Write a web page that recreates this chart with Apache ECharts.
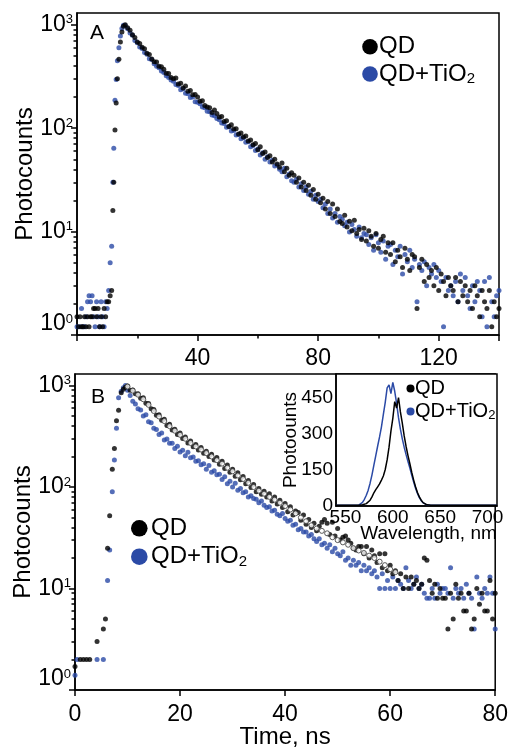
<!DOCTYPE html>
<html><head><meta charset="utf-8">
<script src="https://cdn.jsdelivr.net/npm/echarts@6/dist/echarts.min.js"></script>
<style>html,body{margin:0;padding:0;background:#fff}#c{width:511px;height:750px}</style>
</head><body><div id="c"></div>
<script>
// ---------- Panel A: decay curves (time, ns) ----------
const timeA = [
0,0.5,1,1.5,2,2.5,3,3.5,4,4.5,5,5.5,6,6.5,7,7.5,8,8.5,9,9.5,10,10.5,11,
11.5,11.9,12.2,12.6,13,13.4,13.9,14.4,14.9,15.4,
16,16.8,17.6,18.4,19.2,20,20.8,21.6,22.4,23.2,
24,24.8,25.6,26.4,27.2,28,28.8,29.6,30.4,31.2,
32,32.8,33.6,34.4,35.2,36,36.8,37.6,38.4,39.2,
40,40.8,41.6,42.4,43.2,44,44.8,45.6,46.4,47.2,
48,48.8,49.6,50.4,51.2,52,52.8,53.6,54.4,55.2,
56,56.8,57.6,58.4,59.2,60,60.8,61.6,62.4,63.2,
64,64.8,65.6,66.4,67.2,68,68.8,69.6,70.4,71.2,
72,72.8,73.6,74.4,75.2,76,76.8,77.6,78.4,79.2,
80,80.8,81.6,82.4,83.2,84,84.8,85.6,86.4,87.2,
88,88.8,89.6,90.4,91.2,92,92.8,93.6,94.4,95.2,
96,96.8,97.6,98.4,99.2,100,100.8,101.6,102.4,103.2,
104,104.8,105.6,106.4,107.2,108,108.8,109.6,110.4,111.2,
112,112.8,113.6,114.4,115.2,116,116.8,117.6,118.4,119.2,
120,120.8,121.6,122.4,123.2,124,124.8,125.6,126.4,127.2,
128,128.8,129.6,130.4,131.2,132,132.8,133.6,134.4,135.2,
136,136.8,137.6,138.4,139.2,140];
const qdA = [
1.5,1.2,1.5,1.2,1.2,1.5,1.2,1.5,1.2,1.5,1.5,1.8,1.8,1.5,1.8,1.2,1.5,1.2,1.8,1.5,2.1,2.1,2.4,
2.7,16,30,96,175,300,465,680,850,970,
1000,935,885,800,755,680,660,605,585,530,
515,468,440,437,398,392,372,340,338,310,
300,305,268,272,245,256,228,232,210,212,
200,182,184,166,160,158,142,150,139,128,
130,116,118,104,108,98,99,88,90,82,
84,75,77,69,71,62,66,57,59,52,
54,47,50,45,42,46,38,41,35,37,
35,30,33,27,30,25,28,22.5,25.5,20.5,
23,19,21,16.5,19.5,15,18.5,14,16.5,12.5,
12.0,14.4,11.1,12.6,10.2,12.9,9.6,10.5,8.4,10.8,
8.1,10.2,9.0,7.2,9.6,6.9,8.4,9.0,6.3,7.8,
6.0,7.8,5.1,6.6,5.7,4.5,6.9,5.4,4.2,6.0,
5.7,1.8,4.5,5.4,3.3,4.8,3.6,4.2,3.0,4.5,
2.7,3.9,3.3,2.4,3.6,3.0,2.7,3.6,2.1,3.3,
2.4,3.0,2.1,2.7,1.8,3.0,2.4,1.5,2.7,2.1,
1.8,2.7,1.2,2.1,1.5,1.8];
const qdTiO2A = [
1.2,null,1.2,1.8,1.2,1.2,1.5,2.1,2.4,2.1,2.4,1.5,1.2,2.1,1.5,1.2,2.1,1.5,1.2,2.1,1.8,2.7,5.0,
7.2,30,64,186,295,450,600,780,920,990,
985,915,835,790,705,670,610,590,540,520,
470,462,420,398,385,358,345,322,310,292,
285,265,258,236,240,218,215,198,200,180,
178,172,160,158,146,144,134,132,124,121,
112,111,102,103,94,95,86,87,79,81,
73,74,66,68,61,63,55,58,50,53,
47,49,43,44,40,38,41,34,36,31,
30,32,27,29,25,27,23,24.5,20.5,22.5,
19.5,20.5,17,18.5,15,16.5,13.5,15,12.3,14,
13.2,11.4,12.3,9.9,11.7,10.5,9.0,11.1,8.7,9.6,
9.3,7.5,8.7,6.6,9.3,7.8,6.3,8.1,5.4,7.2,
7.5,4.8,6.6,5.7,7.2,3.9,6.0,5.1,6.6,4.5,
5.4,2.1,4.8,4.2,5.1,3.0,4.5,3.9,4.8,3.6,
4.2,3.3,1.2,3.6,2.7,3.0,2.4,3.3,2.1,3.9,
2.7,3.6,2.4,1.8,3.0,2.1,3.3,2.7,1.5,3.3,
1.2,3.6,2.1,1.5,2.4,2.7];

// ---------- Panel B: decay curves ----------
const timeB = [
0,0.4,1.0,1.6,2.2,2.8,4.2,5.4,5.8,6.2,6.6,7.1,7.5,7.9,8.3,8.8,9.2,9.6,
10,10.5,11,11.5,12,12.5,13,13.5,14,14.5,
15,15.5,16,16.5,17,17.5,18,18.5,19,19.5,
20,20.5,21,21.5,22,22.5,23,23.5,24,24.5,
25,25.5,26,26.5,27,27.5,28,28.5,29,29.5,
30,30.5,31,31.5,32,32.5,33,33.5,34,34.5,
35,35.5,36,36.5,37,37.5,38,38.5,39,39.5,
40,40.5,41,41.5,42,42.5,43,43.5,44,44.5,
45,45.5,46,46.5,47,47.5,48,48.5,49,49.5,
50,50.5,51,51.5,52,52.5,53,53.5,54,54.5,
55,55.5,56,56.5,57,57.5,58,58.5,59,59.5,
60,60.5,61,61.5,62,62.5,63,63.5,64,64.5,
65,65.5,66,66.5,67,67.5,68,68.5,69,69.5,
70,70.5,71,71.5,72,72.5,73,73.5,74,74.5,
75,75.5,76,76.5,77,77.5,78,78.5,79,79.5,
80];
const qdB = [
1.7,null,2,2,2,2,3,4,5,25,52,150,240,450,570,850,920,960,
990,900,905,830,830,750,760,670,665,590,
580,510,515,455,465,405,415,365,372,330,
340,300,312,272,285,250,262,232,245,215,
225,200,210,185,195,168,180,152,165,140,
150,128,138,118,127,108,116,99,106,90,
97,85,91,80,86,73,80,68,74,63,
69,57,64,53,58,56,47,53,43,48,
40,44,37,41,45,48,44,34,45,33,
39,30,32,33,30,28,25,24,26,26,
22,26,20,24,21,18,22,16,22,15,
17,14,15,12,14,10,13,10,13,11,
12,10,11,20,19,12,9,11,8,10,
8,8,4,9,5,11,8,9,6,6,
9,4,5,10,7,9,6,6,12,5,
9];
const qdTiO2B = [
1.4,2,null,null,null,null,2,2,null,12,24,90,185,380,760,880,950,1000,
900,800,700,660,590,575,500,515,440,430,
380,370,330,340,290,298,270,270,240,252,
222,230,203,220,194,198,180,182,166,170,
150,163,140,145,132,134,119,126,108,114,
100,109,93,97,88,90,80,82,77,76,
70,73,66,63,64,58,59,54,52,55,
49,46,47,42,43,38,39,36,36,33,
34,31,29,31,27,28,25,27,23,25,
22,21,23,19,20,17,19,17,18,15,
17,15,16,14,15,13,10,14,10,12,
10,13,10,12,11,10,16,12,10,11,
13,10,11,9,8,8,10,8,11,9,
10,10,9,16,8,10,9,10,8,11,
9,8,4,13,9,8,10,9,13,9,
4];
const fitTimeB = [10,11,12,13,14,15,16,17,18,19,20,21,22,23,24,25,26,27,28,29,30,31,32,33,34,35,36,37,38,39,40,41,42,43,44,45,46,47,48,49,50,51,52,53,54,55,56,57,58,59,60,61];
const fitB = [977,891,813,733,646,562,495,447,398,359,327,299,272,251,234,216,200,184,170,155,143,130,120,110,100,92,86,80,75,70,65,60,55,50,46,42,39,37,35,32,30,28.5,27,25,23.7,22.4,21.1,20,18.4,17,15.5,14.5];

// ---------- Inset: emission spectra ----------
const wavelength = [540,550,560,
562,564,566,568,570,572,574,576,578,580,
582,584,586,588,590,592,594,596,598,600,
602,604,606,608,610,612,614,616,618,620,
622,624,626,628,630,632,634,636,638,640,
650,660,680,700,710];
const specQD = [3,3,3,
3,3,4,5,7,10,15,24,38,55,
68,80,92,108,125,152,192,245,312,365,
435,408,452,392,345,292,248,210,176,140,
108,80,56,38,24,14,8,5,4,3,
3,3,3,3,3];
const specTiO2 = [3,3,3,
3,4,8,15,28,45,66,95,130,170,
210,250,288,330,382,432,492,505,468,515,
478,428,368,320,280,245,214,185,158,128,
100,74,52,35,22,13,8,5,4,3,
3,3,3,3,3];

// ---------- tick values ----------
const decadeTicks = [1, 10, 100, 1000];
const minorLogTicks = [2,3,4,5,6,7,8,9,20,30,40,50,60,70,80,90,200,300,400,500,600,700,800,900];
const insetXTicks = [550, 600, 650, 700];
const insetYTicks = [0, 150, 300, 450];
const Y_MIN = 1, Y_MAX = 1300;

const BLUE = '#2b4aa6';
const FONT = '"Liberation Sans", Arial, sans-serif';
const pairs = (xs, ys) => xs.map((x, i) => [x, ys[i]]).filter(p => p[1] != null);
const supFmt = v => {
  const e = Math.log10(v);
  if (Math.abs(e - Math.round(e)) > 1e-6) return '';
  const n = Math.round(e);
  return n === 0 ? '{bl|10}{sl|0}' : '{b|10}{s|' + n + '}';
};
const supRich = {
  b: { fontSize: 23, fontFamily: FONT, color: '#000' },
  s: { fontSize: 13, fontFamily: FONT, color: '#000', verticalAlign: 'top' },
  bl: { fontSize: 23, fontFamily: FONT, color: '#000', padding: [0, 0, 22, 0] },
  sl: { fontSize: 13, fontFamily: FONT, color: '#000', verticalAlign: 'top' }
};
const lineSt = { color: '#000', width: 1.5 };

function logAxes(grid) {
  return [
    { type: 'log', gridIndex: grid, min: Y_MIN, max: Y_MAX, position: 'left',
      axisLine: { show: true, lineStyle: lineSt },
      axisTick: { show: true, customValues: decadeTicks, length: 6, lineStyle: lineSt },
      axisLabel: { customValues: decadeTicks, formatter: supFmt, rich: supRich, margin: 4 },
      splitLine: { show: false },
      name: 'Photocounts', nameLocation: 'middle', nameGap: 40, nameMoveOverlap: false,
      nameTextStyle: { fontSize: 24, fontFamily: FONT, color: '#000' } },
    // minor decade ticks, placed on a log10 value scale covering the same range
    { type: 'value', gridIndex: grid, min: Math.log10(Y_MIN), max: Math.log10(Y_MAX), position: 'left',
      axisLine: { show: false },
      axisTick: { show: true, customValues: minorLogTicks.map(Math.log10), length: 3.5, lineStyle: lineSt },
      axisLabel: { show: false }, splitLine: { show: false } }
  ];
}

const option = {
  animation: false,
  backgroundColor: '#fff',
  textStyle: { fontFamily: FONT, color: '#000' },
  grid: [
    { left: 77, top: 13, width: 422, height: 322, show: true, borderColor: '#000', borderWidth: 1.5 },
    { left: 75, top: 374, width: 422, height: 326, show: true, borderColor: '#000', borderWidth: 1.5 },
    { left: 336, top: 374, width: 161, height: 132, show: true, borderColor: '#000', borderWidth: 1.5, backgroundColor: '#fff' }
  ],
  xAxis: [
    { type: 'value', gridIndex: 0, min: 0, max: 140, interval: 40,
      axisLine: { lineStyle: lineSt }, axisTick: { length: 6, lineStyle: lineSt },
      minorTick: { show: true, splitNumber: 2, length: 3.5, lineStyle: lineSt },
      axisLabel: { fontSize: 23, color: '#000', margin: 12, formatter: v => (v > 0 && v < 140) ? String(v) : '' },
      splitLine: { show: false } },
    { type: 'value', gridIndex: 1, min: 0, max: 80, interval: 20,
      axisLine: { lineStyle: lineSt }, axisTick: { length: 6, lineStyle: lineSt },
      axisLabel: { fontSize: 23, color: '#000', margin: 13 },
      splitLine: { show: false },
      name: 'Time, ns', nameLocation: 'middle', nameGap: 35, nameMoveOverlap: false,
      nameTextStyle: { fontSize: 24, fontFamily: FONT, color: '#000' } },
    { type: 'value', gridIndex: 2, min: 540, max: 710,
      axisLine: { lineStyle: lineSt }, axisTick: { show: false },
      axisLabel: { customValues: insetXTicks, fontSize: 19, color: '#000', margin: 2 },
      splitLine: { show: false },
      name: 'Wavelength, nm', nameLocation: 'middle', nameGap: 18, nameMoveOverlap: false,
      nameTextStyle: { fontSize: 19, fontFamily: FONT, color: '#000', padding: [0, 0, 0, 24] } }
  ],
  yAxis: [
    ...logAxes(0),
    ...logAxes(1),
    { type: 'value', gridIndex: 2, min: 0, max: 550,
      axisLine: { lineStyle: lineSt }, axisTick: { show: false },
      axisLabel: { customValues: insetYTicks, fontSize: 19, color: '#000', margin: 3 },
      splitLine: { show: false },
      name: 'Photoounts', nameLocation: 'middle', nameGap: 36, nameMoveOverlap: false,
      nameTextStyle: { fontSize: 19, fontFamily: FONT, color: '#000' } }
  ],
  series: [
    { name: 'QD+TiO2 A', type: 'scatter', xAxisIndex: 0, yAxisIndex: 0, data: pairs(timeA, qdTiO2A),
      symbolSize: 5, itemStyle: { color: BLUE }, silent: true },
    { name: 'QD A', type: 'scatter', xAxisIndex: 0, yAxisIndex: 0, data: pairs(timeA, qdA),
      symbolSize: 5, itemStyle: { color: '#000' }, silent: true },
    { name: 'QD+TiO2 B', type: 'scatter', xAxisIndex: 1, yAxisIndex: 2, data: pairs(timeB, qdTiO2B),
      symbolSize: 5, itemStyle: { color: BLUE }, silent: true },
    { name: 'QD B', type: 'scatter', xAxisIndex: 1, yAxisIndex: 2, data: pairs(timeB, qdB),
      symbolSize: 5, itemStyle: { color: '#000' }, silent: true },
    { name: 'fit B', type: 'scatter', xAxisIndex: 1, yAxisIndex: 2, data: pairs(fitTimeB, fitB),
      symbolSize: 5, itemStyle: { color: '#fff', borderColor: '#333', borderWidth: 1 }, silent: true },
    { name: 'QD+TiO2 spectrum', type: 'line', xAxisIndex: 2, yAxisIndex: 4, data: pairs(wavelength, specTiO2),
      showSymbol: false, lineStyle: { color: BLUE, width: 1.5 }, silent: true },
    { name: 'QD spectrum', type: 'line', xAxisIndex: 2, yAxisIndex: 4, data: pairs(wavelength, specQD),
      showSymbol: false, lineStyle: { color: '#000', width: 1.5 }, silent: true }
  ],
  graphic: [
    { type: 'text', x: 97, y: 33, style: { text: 'A', font: '21px ' + FONT, fill: '#000', align: 'center', verticalAlign: 'middle' } },
    { type: 'text', x: 98, y: 397, style: { text: 'B', font: '21px ' + FONT, fill: '#000', align: 'center', verticalAlign: 'middle' } },
    // legend A
    { type: 'circle', shape: { cx: 370, cy: 46.7, r: 7.8 }, style: { fill: '#000' } },
    { type: 'text', x: 379, y: 46.7, style: { text: 'QD', font: '24px ' + FONT, fill: '#000', verticalAlign: 'middle' } },
    { type: 'circle', shape: { cx: 370, cy: 74, r: 7.8 }, style: { fill: BLUE } },
    { type: 'text', x: 379, y: 74, style: { text: 'QD+TiO{s|2}', font: '24px ' + FONT, fill: '#000', verticalAlign: 'middle',
      rich: { s: { fontSize: 15, fontFamily: FONT, fill: '#000', verticalAlign: 'bottom', padding: [10, 0, 0, 0] } } } },
    // legend B
    { type: 'circle', shape: { cx: 139.3, cy: 528.3, r: 8.3 }, style: { fill: '#000' } },
    { type: 'text', x: 151, y: 528.3, style: { text: 'QD', font: '24px ' + FONT, fill: '#000', verticalAlign: 'middle' } },
    { type: 'circle', shape: { cx: 139.3, cy: 556.7, r: 8.3 }, style: { fill: BLUE } },
    { type: 'text', x: 151, y: 556.7, style: { text: 'QD+TiO{s|2}', font: '24px ' + FONT, fill: '#000', verticalAlign: 'middle',
      rich: { s: { fontSize: 15, fontFamily: FONT, fill: '#000', verticalAlign: 'bottom', padding: [10, 0, 0, 0] } } } },
    // inset legend
    { type: 'circle', shape: { cx: 410.5, cy: 388.5, r: 4 }, style: { fill: '#000' } },
    { type: 'text', x: 415, y: 388.5, style: { text: 'QD', font: '20px ' + FONT, fill: '#000', verticalAlign: 'middle' } },
    { type: 'circle', shape: { cx: 410.5, cy: 411.5, r: 4 }, style: { fill: BLUE } },
    { type: 'text', x: 415, y: 411.5, style: { text: 'QD+TiO{s|2}', font: '20px ' + FONT, fill: '#000', verticalAlign: 'middle',
      rich: { s: { fontSize: 13, fontFamily: FONT, fill: '#000', verticalAlign: 'bottom', padding: [8, 0, 0, 0] } } } }
  ]
};
const chart = echarts.init(document.getElementById('c'), null, { renderer: 'canvas' });
chart.setOption(option);
</script>
</body></html>
